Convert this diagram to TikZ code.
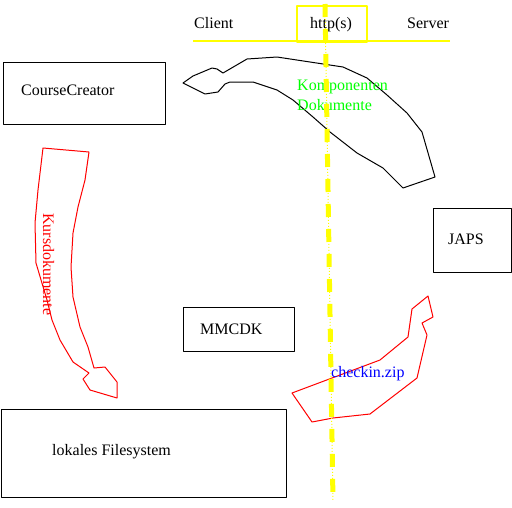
\documentclass[tikz,border=0pt]{standalone}
\usepackage{fontspec}
\setmainfont{Liberation Serif}
\definecolor{figgreen}{RGB}{0,255,0}
\definecolor{figyellow}{RGB}{255,255,0}
\begin{document}
\begin{tikzpicture}[x=1pt,y=-1pt,line join=round,
  box/.style={draw=black,line width=1pt,inner sep=0pt,anchor=north west},
  lbl/.style={anchor=base west,inner sep=0pt,font=\fontsize{16}{19}\selectfont},
  flow/.style={line width=1pt}]
\useasboundingbox (0,0) rectangle (512,507);
% header
\draw[figyellow,line width=2pt] (193,40.5) -- (450,40.5);
\node[box,draw=figyellow,line width=2pt,minimum width=70,minimum height=36] (http) at (296,4.5) {};
\node[lbl] (client) at (194,28.5) {Client};
\node[lbl] (httpt) at (310,28.5) {http(s)};
\node[lbl] (server) at (407,28.5) {Server};
% boxes
\node[box,minimum width=162,minimum height=62] (ccbox) at (3,62) {};
\node[lbl] (cc) at (21,95) {CourseCreator};
\node[box,minimum width=78,minimum height=64] (japsbox) at (433,208) {};
\node[lbl] (japs) at (448,244) {JAPS};
\node[box,minimum width=111,minimum height=44] (mmbox) at (183,307) {};
\node[lbl] (mm) at (200,334) {MMCDK};
\node[box,minimum width=285,minimum height=88] (fsbox) at (0.5,409) {};
\node[lbl] (fs) at (52,455) {lokales Filesystem};
% black flow arrow
\draw[flow,black] (183,83) -- (193,76) -- (212,68) -- (217,69) -- (223,73) -- (247,59)
  -- (277,57) -- (310,62) -- (343,67) -- (367,78) -- (387,95) -- (407,113) -- (422,132)
  -- (435,177) -- (403,188) -- (383,168) -- (357,153) -- (330,132) -- (313,117)
  -- (293,100) -- (277,90) -- (253,82) -- (230,82) -- (225,84) -- (218,92) -- (205,94) -- cycle;
% red left arrow
\draw[flow,red] (43,148) -- (89,152) -- (85,180) -- (78,207) -- (73,233) -- (71,267)
  -- (73,297) -- (80,327) -- (88,347) -- (94,368) -- (105,367) -- (117,382) -- (117,398)
  -- (90,390) -- (83,379) -- (89,373) -- (73,362) -- (60,340) -- (52,320) -- (47,300)
  -- (36,263) -- (35,223) -- (38,190) -- cycle;
% red bottom arrow
\draw[flow,red] (428,296) -- (433,317) -- (422,323) -- (427,335) -- (417,378) -- (370,414)
  -- (333,418) -- (312,422) -- (292,393) -- (380,360) -- (408,337) -- (412,309) -- cycle;
% labels
\node[lbl,text=figgreen] (komp) at (297,90) {Komponenten};
\node[lbl,text=figgreen] (dok) at (297,110) {Dokumente};
\node[lbl,text=blue] (zip) at (331,377) {checkin.zip};
\node[lbl,text=red,rotate=-90] (kurs) at (43,213) {Kursdokumente};
% yellow boundary line
\coordinate (ytop) at (325,4);
\coordinate (ybot) at (333,501);
\draw[figyellow,line width=1pt,dash pattern=on 1pt off 2pt] (ytop) -- (ybot);
\draw[figyellow,line width=5pt,dash pattern=on 13pt off 12pt] (ytop) -- (ybot);
\end{tikzpicture}
\end{document}
